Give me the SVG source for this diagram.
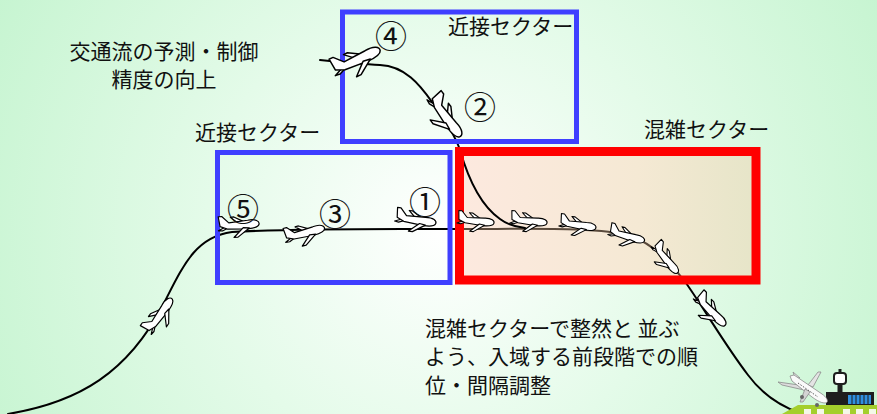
<svg xmlns="http://www.w3.org/2000/svg" xmlns:xlink="http://www.w3.org/1999/xlink" width="877" height="414" viewBox="0 0 877 414">
  <style>
    .lbl { font-family: "Noto Sans CJK JP", "Noto Sans", sans-serif; font-size: 21px; fill: #111; }
    .num { font-family: "Noto Sans CJK JP", sans-serif; font-size: 32px; fill: #111; text-anchor: middle; }
    .route { fill: none; stroke: #000; stroke-width: 2; stroke-linecap: round; }
    .route-in { fill: none; stroke: #5a4a3c; stroke-width: 2; }
    .pl { fill: #fff; stroke: #000; stroke-width: 1.2; stroke-linejoin: round; }
    .sector-app { fill: none; stroke: #3f3fff; stroke-width: 5; }
    .sector-busy { stroke: #ff0000; stroke-width: 9; }
  </style>
  <defs>
    <radialGradient id="bg" cx="440" cy="230" r="520" gradientUnits="userSpaceOnUse">
      <stop offset="0" stop-color="#ffffff"/>
      <stop offset="0.45" stop-color="#e4fbe9"/>
      <stop offset="1" stop-color="#c4f4cf"/>
    </radialGradient>
    <linearGradient id="busyFill" x1="0" y1="0" x2="1" y2="0">
      <stop offset="0" stop-color="#fde9df"/>
      <stop offset="0.6" stop-color="#f5e9d4"/>
      <stop offset="1" stop-color="#e6e5c8"/>
    </linearGradient>
    <!-- small airliner, nose pointing to +x, centred on the origin -->
    <g id="plane">
      <path class="pl" d="M -2,-3 L -8,-8.5 L -4.5,-8.5 L 4,-3.5 Z"/>
      <path class="pl" d="M -14,1 L -21,4 L -17,4.5 L -11,2 Z"/>
      <path class="pl" d="M -19,0 L -20,-10 L -16.5,-10 L -10,-3 L 9,-4 C 17,-5 21,-2 20,1 C 19,4 13,4.5 8,4.5 L -12,3 Z"/>
      <path class="pl" d="M 4,3 L -6,12 L -2,12 L 10,3.8 Z"/>
    </g>
  </defs>

  <!-- background -->
  <rect x="0" y="0" width="877" height="414" fill="url(#bg)"/>

  <!-- sector fills -->
  <rect x="459.5" y="151.5" width="296.5" height="128.5" fill="url(#busyFill)"/>

  <!-- flight routes -->
  <g id="connectors">
    <path class="route" d="M 8,414 C 80,402 128,372 163,305 C 183,266 195,237 232,232 C 300,228 390,229 459,229"/>
    <path class="route-in" d="M 459,229 C 540,229 600,227 630,236 C 655,244 672,265 686,283"/>
    <path class="route" d="M 686,283 C 705,310 725,345 748,375 C 762,394 780,406 800,413"/>
    <path class="route" d="M 320,60 C 340,62 360,64 380,65 C 405,66 420,85 432,102 C 445,120 455,135 460,150 C 468,178 480,205 500,219 C 508,225 515,227 525,228"/>
  </g>

  <!-- sectors -->
  <g id="sector-approach-upper">
    <rect class="sector-app" x="342.5" y="12" width="234" height="129.5"/>
    <text class="lbl" x="448" y="34" font-size="20">近接セクター</text>
  </g>
  <g id="sector-approach-lower">
    <rect class="sector-app" x="217.5" y="152.5" width="232.5" height="130"/>
    <text class="lbl" x="195" y="140" font-size="20">近接セクター</text>
  </g>
  <g id="sector-busy">
    <rect class="sector-busy" x="459.5" y="151.5" width="296.5" height="128.5" fill="none"/>
    <text class="lbl" x="644" y="137" font-size="20">混雑セクター</text>
  </g>

  <!-- aircraft -->
  <g id="aircraft">
    <use xlink:href="#plane" transform="translate(357,60) rotate(-25) scale(1.25)"/>
    <use xlink:href="#plane" transform="translate(446,117) rotate(53) scale(1.2)"/>
    <use xlink:href="#plane" transform="translate(239,225) rotate(-5)"/>
    <use xlink:href="#plane" transform="translate(305,233) rotate(-15)"/>
    <use xlink:href="#plane" transform="translate(416,220) rotate(8)"/>
    <use xlink:href="#plane" transform="translate(476,221) rotate(5) scale(0.9)"/>
    <use xlink:href="#plane" transform="translate(529,221) rotate(5) scale(0.9)"/>
    <use xlink:href="#plane" transform="translate(578,225) rotate(8) scale(0.9)"/>
    <use xlink:href="#plane" transform="translate(627,236) rotate(15) scale(0.9)"/>
    <use xlink:href="#plane" transform="translate(666,259) rotate(50) scale(0.9)"/>
    <use xlink:href="#plane" transform="translate(711,311) rotate(45)"/>
    <use xlink:href="#plane" transform="translate(160,315) rotate(-55)"/>
  </g>

  <!-- sequence numbers -->
  <g id="numbers">
    <text class="num" x="391" y="48">④</text>
    <text class="num" x="480" y="119">②</text>
    <text class="num" x="243" y="221">⑤</text>
    <text class="num" x="335" y="226">③</text>
    <text class="num" x="425" y="214">①</text>
  </g>

  <!-- notes -->
  <g id="note-prediction">
    <text class="lbl" x="164" y="59" text-anchor="middle" font-size="20">交通流の予測・制御</text>
    <text class="lbl" x="164" y="87" text-anchor="middle" font-size="20">精度の向上</text>
  </g>
  <g id="note-sequencing">
    <text class="lbl" x="425" y="336">混雑セクターで整然と 並ぶ</text>
    <text class="lbl" x="425" y="364">よう、入域する前段階での順</text>
    <text class="lbl" x="425" y="393">位・間隔調整</text>
  </g>

  <!-- airport -->
  <g id="airport">
    <polygon points="782,414 798,405 877,405 877,414" fill="#a4cf2c"/>
    <g fill="#f4f8e8">
      <rect x="804" y="409" width="7" height="5"/>
      <rect x="817" y="409" width="7" height="5"/>
      <rect x="843" y="409" width="7" height="5"/>
      <rect x="856" y="409" width="7" height="5"/>
      <rect x="869" y="409" width="7" height="5"/>
    </g>
    <rect x="826" y="392" width="48" height="13" fill="#1e1e1e"/>
    <rect x="848" y="395" width="23" height="9" fill="#2f8fe0"/>
    <g stroke="#1e1e1e" stroke-width="1">
      <line x1="852" y1="395" x2="852" y2="404"/>
      <line x1="856" y1="395" x2="856" y2="404"/>
      <line x1="860" y1="395" x2="860" y2="404"/>
      <line x1="864" y1="395" x2="864" y2="404"/>
      <line x1="868" y1="395" x2="868" y2="404"/>
    </g>
    <rect x="837.5" y="383" width="5" height="22" fill="#1e1e1e"/>
    <rect x="834" y="373" width="12" height="11" rx="3" fill="#fff" stroke="#1e1e1e" stroke-width="2"/>
    <rect x="838.5" y="369" width="3" height="5" fill="#1e1e1e"/>
    <!-- parked jet -->
    <g stroke="#8a8a8a" stroke-width="0.8" stroke-linejoin="round">
      <polygon points="793,372 795,378 800,378" fill="#e6e6e6"/>
      <polygon points="806,386 778,382 782,385 804,390" fill="#dcdcdc"/>
      <polygon points="808,385 818,372 821,372 813,387" fill="#e4e4e4"/>
      <path d="M 790,376 L 794,375 L 822,394 C 828,398 829,403 825,403 C 820,403 815,399 812,397 L 792,381 Z" fill="#fafafa"/>
      <polygon points="805,389 800,402 803,402 810,392" fill="#d4d4d4"/>
    </g>
    <line x1="798" y1="383" x2="818" y2="397" stroke="#333" stroke-width="0.8" stroke-dasharray="1.5 1.5"/>
    <circle cx="802" cy="397" r="2" fill="#666"/>
    <circle cx="817" cy="405" r="2" fill="#666"/>
  </g>
</svg>
